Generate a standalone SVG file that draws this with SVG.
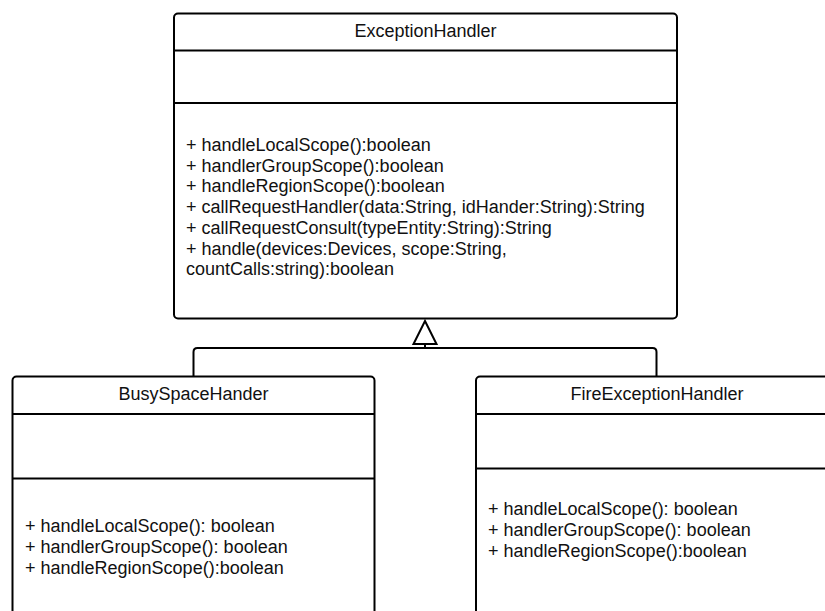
<svg xmlns="http://www.w3.org/2000/svg" width="825" height="611" viewBox="0 0 825 611">
  <style>
    .box { fill: #ffffff; stroke: #000000; stroke-width: 2; }
    .div { stroke: #000000; stroke-width: 2; fill: none; }
    .edge { stroke: #000000; stroke-width: 2; fill: none; stroke-linejoin: round; }
    .head { fill: #ffffff; stroke: #000000; stroke-width: 2; stroke-linejoin: miter; }
    .title { font-family: "Liberation Sans", Arial, sans-serif; font-size: 18px; fill: #111111; text-anchor: middle; }
    .member { font-family: "Liberation Sans", Arial, sans-serif; font-size: 18px; fill: #111111; }
  </style>

  <!-- generalization: both subclasses join into one hollow triangle -->
  <g id="connectors">
    <path class="edge" d="M193.5 376 L193.5 352 Q193.5 348 197.5 348 L652.5 348 Q656.5 348 656.5 352 L656.5 376"/>
    <path class="edge" d="M425 344 L425 348"/>
    <path class="head" d="M425 321 L436.5 344 L413.5 344 Z"/>
  </g>

  <g id="ExceptionHandler">
    <rect class="box" x="174" y="13.5" width="503" height="305" rx="4"/>
    <line class="div" x1="174" y1="50.5" x2="677" y2="50.5"/>
    <line class="div" x1="174" y1="103" x2="677" y2="103"/>
    <text class="title" x="425.5" y="37">ExceptionHandler</text>
    <text class="member" x="186" y="151">+ handleLocalScope():boolean</text>
    <text class="member" x="186" y="171.7">+ handlerGroupScope():boolean</text>
    <text class="member" x="186" y="192.4">+ handleRegionScope():boolean</text>
    <text class="member" x="186" y="213.1">+ callRequestHandler(data:String, idHander:String):String</text>
    <text class="member" x="186" y="233.8">+ callRequestConsult(typeEntity:String):String</text>
    <text class="member" x="186" y="254.5">+ handle(devices:Devices, scope:String,</text>
    <text class="member" x="186" y="275.2">countCalls:string):boolean</text>
  </g>

  <g id="BusySpaceHander">
    <rect class="box" x="12.5" y="376.5" width="362" height="260" rx="4"/>
    <line class="div" x1="12.5" y1="414" x2="374.5" y2="414"/>
    <line class="div" x1="12.5" y1="478.5" x2="374.5" y2="478.5"/>
    <text class="title" x="193.5" y="399.5">BusySpaceHander</text>
    <text class="member" x="25" y="531.5">+ handleLocalScope(): boolean</text>
    <text class="member" x="25" y="552.5">+ handlerGroupScope(): boolean</text>
    <text class="member" x="25" y="573.5">+ handleRegionScope():boolean</text>
  </g>

  <g id="FireExceptionHandler">
    <rect class="box" x="476" y="376.5" width="362" height="260" rx="4"/>
    <line class="div" x1="476" y1="414" x2="838" y2="414"/>
    <line class="div" x1="476" y1="468.5" x2="838" y2="468.5"/>
    <text class="title" x="657" y="399.5">FireExceptionHandler</text>
    <text class="member" x="488" y="515">+ handleLocalScope(): boolean</text>
    <text class="member" x="488" y="536">+ handlerGroupScope(): boolean</text>
    <text class="member" x="488" y="557">+ handleRegionScope():boolean</text>
  </g>
</svg>
